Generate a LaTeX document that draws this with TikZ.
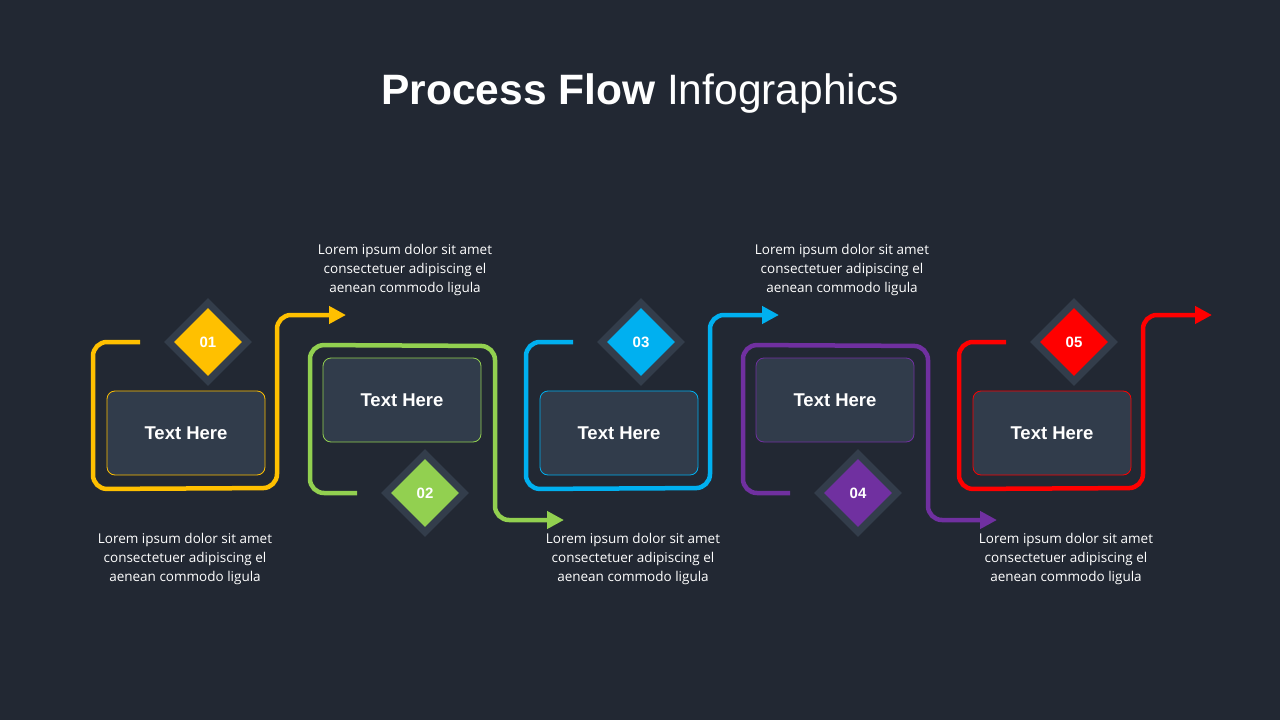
\documentclass[tikz,border=0pt]{standalone}
\usepackage{fontspec}
\setmainfont{Liberation Sans}
\newfontfamily\bodyfont{Open Sans}
\usetikzlibrary{arrows.meta,shapes.geometric}
\definecolor{bg}{HTML}{222833}
\definecolor{boxfill}{HTML}{313C4B}
\definecolor{dia}{HTML}{333D4B}
\definecolor{cY}{HTML}{FFC000}
\definecolor{cG}{HTML}{92D050}
\definecolor{cB}{HTML}{00B0F0}
\definecolor{cP}{HTML}{7030A0}
\definecolor{cR}{HTML}{FF0000}
\tikzset{
 flow/.style={line width=4.5pt,rounded corners=14pt,-{Triangle[length=17pt,width=17pt]}},
 tbox/.style={draw,line width=0.8pt,fill=boxfill,rounded corners=8pt,minimum width=158pt,minimum height=84pt,text=white,font=\bfseries\fontsize{18.5}{20}\selectfont},
 douter/.style={diamond,fill=dia,minimum size=88pt,inner sep=0},
 dinner/.style={diamond,minimum size=68pt,inner sep=0,text=white,font=\bfseries\fontsize{15}{16}\selectfont},
 lorem/.style={text=white,align=center,font=\bodyfont\fontsize{13.5}{19}\selectfont},
}
\begin{document}
\begin{tikzpicture}[x=1pt,y=-1pt]
\fill[bg] (0,0) rectangle (1280,720);
\useasboundingbox (0,0) rectangle (1280,720);
\node[text=white,font=\fontsize{42.5}{46}\selectfont] (title) at (640,94) {\textbf{Process Flow} Infographics};
% up units
\foreach \dx/\c/\n/\nm in {0/cY/01/a,433/cB/03/c,866/cR/05/e}{
 \begin{scope}[xshift=\dx]
 \draw[\c,flow] (140,342) -- (93,342) -- (93,489) -- (277,488) -- (277,315) -- (346,315);
 \node[tbox,draw=\c] (box\nm) at (186,433) {Text Here};
 \node[douter] (do\nm) at (208,342) {};
 \node[dinner,fill=\c] (di\nm) at (208,342) {\n};
 \end{scope}}
\foreach \dx/\c/\n/\nm in {0/cG/02/b,433/cP/04/d}{
 \begin{scope}[xshift=\dx]
 \draw[\c,flow] (357,493) -- (310,493) -- (310,345) -- (495,346) -- (495,520) -- (564,520);
 \node[tbox,draw=\c] (box\nm) at (402,400) {Text Here};
 \node[douter] (do\nm) at (425,493) {};
 \node[dinner,fill=\c] (di\nm) at (425,493) {\n};
 \end{scope}}
\foreach \x/\nm in {405/t1,842/t2}
 \node[lorem] (\nm) at (\x,270) {Lorem ipsum dolor sit amet\\consectetuer adipiscing el\\aenean commodo ligula};
\foreach \x/\nm in {185/b1,633/b2,1066/b3}
 \node[lorem] (\nm) at (\x,559) {Lorem ipsum dolor sit amet\\consectetuer adipiscing el\\aenean commodo ligula};
\end{tikzpicture}
\end{document}
